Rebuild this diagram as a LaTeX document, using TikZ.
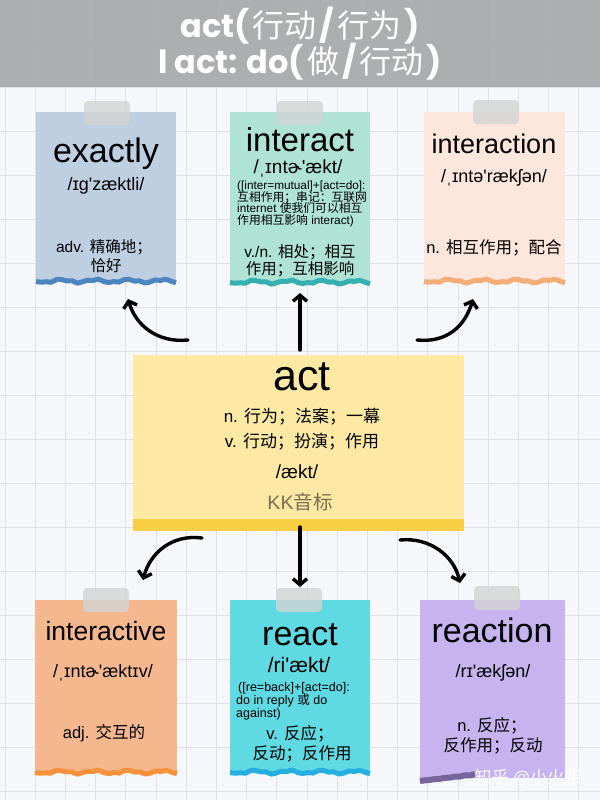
\documentclass[tikz,border=0pt]{standalone}
\usepackage{fontspec}
\setmainfont{Liberation Sans}[Ligatures=TeXOff]
\newfontfamily\cjk{Noto Sans CJK SC}
\newfontfamily\popf{Poppins}
\usetikzlibrary{arrows.meta}
\newcommand\zh[1]{{\cjk #1}}
\newcommand\fs[1]{\fontsize{#1}{#1}\selectfont}
\newcommand\tk{\kern3pt}
\definecolor{bgc}{HTML}{F5F7FB}
\definecolor{gridc}{HTML}{DDE1E8}
\definecolor{titlec}{HTML}{A8A9AB}
\definecolor{exf}{HTML}{BFCFE2}
\definecolor{exw}{HTML}{4D85BF}
\definecolor{inf}{HTML}{AEE3D5}
\definecolor{inwv}{HTML}{35B0AE}
\definecolor{iaf}{HTML}{FDE6DC}
\definecolor{iawv}{HTML}{F2AD78}
\definecolor{actf}{HTML}{FDE9A3}
\definecolor{acts}{HTML}{F8CF45}
\definecolor{itf}{HTML}{F5B88E}
\definecolor{itwv}{HTML}{F7923A}
\definecolor{ref}{HTML}{5FD9E2}
\definecolor{rewv}{HTML}{25AEE0}
\definecolor{raf}{HTML}{C6B3EF}
\definecolor{rawv}{HTML}{76649C}
\definecolor{kkc}{HTML}{7B6F52}
\definecolor{tapec}{HTML}{D3D4D4}
\tikzset{
  cardbox/.style={anchor=north west, inner sep=0, draw=none},
  tapebox/.style={fill=tapec, opacity=0.8, inner sep=0, minimum width=46, minimum height=24, rounded corners=4},
  t/.style={anchor=base, inner sep=0, text=black},
  tl/.style={anchor=base west, inner sep=0, text=black},
  arr/.style={line width=3.4, line cap=round, -{Straight Barb[length=6pt,width=14pt]}},
}
\newcommand\wave[4]{\draw[#4, line width=5] plot[smooth, domain=0:1, samples=28] ({#1+\x*(#2-#1)},{#3+1.4*sin(\x*1500)+0.8*sin(\x*3700+40)});}
\begin{document}
\begin{tikzpicture}[x=1pt,y=-1pt]
\useasboundingbox (0,0) rectangle (600,800);
\fill[bgc] (0,0) rectangle (600,800);
\foreach \gx in {5,35.2,...,600} \draw[gridc, line width=0.7] (\gx,0) -- (\gx,800);
\foreach \gy in {43,87,...,800} \draw[gridc, line width=0.7] (0,\gy) -- (600,\gy);
% title band
\fill[titlec, opacity=0.93] (0,0) rectangle (600,87);
\node[t, text=white, font=\popf\bfseries\fs{32}] (title1) at (300,37.5) {act(\tk\zh{\mdseries 行动}\tk/\tk\zh{\mdseries 行为}\tk)};
\node[t, text=white, font=\popf\bfseries\fs{32}] (title2) at (300,74) {l act: do(\tk\zh{\mdseries 做}\tk/\tk\zh{\mdseries 行动}\tk)};
% cards
\node[cardbox, fill=exf, minimum width=140, minimum height=169] (exactly) at (36,112) {};
\wave{36}{176}{281}{exw}
\node[cardbox, fill=inf, minimum width=140, minimum height=170] (interact) at (230,112) {};
\wave{230}{370}{282}{inwv}
\node[cardbox, fill=iaf, minimum width=141, minimum height=169] (interaction) at (424,112) {};
\wave{424}{565}{281}{iawv}
\node[cardbox, fill=actf, minimum width=331, minimum height=175] (act) at (133,355) {};
\fill[acts] (133,519) rectangle (464,531);
\node[cardbox, fill=itf, minimum width=142, minimum height=172] (interactive) at (35,600) {};
\wave{35}{177}{772}{itwv}
\node[cardbox, fill=ref, minimum width=140, minimum height=172] (react) at (230,600) {};
\wave{230}{370}{772}{rewv}
\node[cardbox, fill=raf, minimum width=145, minimum height=178] (reaction) at (420,600) {};
\draw[rawv, line width=6] plot[smooth, domain=0:1, samples=12] ({420+55*\x},{781-6.6*\x+1.2*sin(\x*2000)});
% tapes
\node[tapebox] (tape1) at (107,113) {};
\node[tapebox] (tape2) at (300,113) {};
\node[tapebox] (tape3) at (496,112) {};
\node[tapebox] (tape4) at (106,600) {};
\node[tapebox] (tape5) at (299,600) {};
\node[tapebox] (tape6) at (497,598) {};
% exactly
\node[t, font=\fs{34}] (exw1) at (106,162) {exactly};
\node[t, font=\fs{18}] (exp1) at (106,190) {/ɪɡ'zæktli/};
\node[t, font=\fs{15.5}] (exm1) at (104,252) {adv. \zh{精确地；}};
\node[t, font=\fs{15.5}] (exm2) at (106,271) {\zh{恰好}};
% interact
\node[t, font=\fs{33}] (inw1) at (300,151) {interact};
\node[t, font=\fs{19}] (inp1) at (298,173) {/ˌɪntɚ'ækt/};
\node[tl, font=\fs{11.8}] (ins1) at (237,189.5) {([inter=mutual]+[act=do]:};
\node[tl, font=\fs{11.8}] (ins2) at (237,201.2) {\zh{互相作用；串记：互联网}};
\node[tl, font=\fs{11.8}] (ins3) at (237,212.9) {internet \zh{使我们可以相互}};
\node[tl, font=\fs{11.8}] (ins4) at (237,224.6) {\zh{作用相互影响} interact)};
\node[t, font=\fs{15.5}] (inm1) at (300,257.5) {v./n. \zh{相处；相互}};
\node[t, font=\fs{15.5}] (inm2) at (300,274) {\zh{作用；互相影响}};
% interaction
\node[t, font=\fs{27}] (iaw1) at (494,153) {interaction};
\node[t, font=\fs{18}] (iap1) at (494,182) {/ˌɪntə'rækʃən/};
\node[t, font=\fs{16.5}] (iam1) at (494,253) {n. \zh{相互作用；配合}};
% act
\node[t, font=\fs{43}] (actw1) at (302,390) {act};
\node[t, font=\fs{17}] (actn1) at (302,422) {n. \zh{行为；法案；一幕}};
\node[t, font=\fs{17}] (actv1) at (302,447) {v. \zh{行动；扮演；作用}};
\node[t, font=\fs{19}] (actp1) at (297,478) {/ækt/};
\node[t, font=\fs{19.5}, text=kkc] (actk1) at (300,509) {KK\zh{音标}};
% interactive
\node[t, font=\fs{26.5}] (itw1) at (106,640) {interactive};
\node[t, font=\fs{18}] (itp1) at (103,677) {/ˌɪntɚ'æktɪv/};
\node[t, font=\fs{16.5}] (itm1) at (104,738) {adj. \zh{交互的}};
% react
\node[t, font=\fs{34}] (rew1) at (300,645) {react};
\node[t, font=\fs{21}] (rep1) at (299,672) {/ri'ækt/};
\node[tl, font=\fs{12.5}] (res1) at (238,691) {([re=back]+[act=do]:};
\node[tl, font=\fs{12.5}] (res2) at (236,704) {do in reply \zh{或} do};
\node[tl, font=\fs{12.5}] (res3) at (236,717) {against)};
\node[t, font=\fs{16.5}] (rem1) at (300,739) {v. \zh{反应；}};
\node[t, font=\fs{16.5}] (rem2) at (302,759) {\zh{反动；反作用}};
% reaction
\node[t, font=\fs{34}] (raw1) at (492,642) {reaction};
\node[t, font=\fs{18}] (rap1) at (493,677) {/rɪ'ækʃən/};
\node[t, font=\fs{16.5}] (ram1) at (492,731) {n. \zh{反应；}};
\node[t, font=\fs{16.5}] (ram2) at (493,751) {\zh{反作用；反动}};
% watermark
\node[t, font=\fs{17}, text=white, opacity=0.95] (wm) at (528,783) {\zh{知乎} @\zh{小火柴}};
% arrows
\coordinate (a1s) at (188,340); \coordinate (a1e) at (128,299);
\coordinate (a2s) at (300,350); \coordinate (a2e) at (300,293);
\coordinate (a3s) at (417,340); \coordinate (a3e) at (473,299);
\coordinate (b1s) at (202,538); \coordinate (b1e) at (143,580);
\coordinate (b2s) at (300,527); \coordinate (b2e) at (300,587);
\coordinate (b3s) at (400,540); \coordinate (b3e) at (460,583);
\draw[arr] (a1s) .. controls (158,343) and (136,326) .. (a1e);
\draw[arr] (a2s) -- (a2e);
\draw[arr] (a3s) .. controls (447,343) and (465,326) .. (a3e);
\draw[arr] (b1s) .. controls (172,534) and (150,553) .. (b1e);
\draw[arr] (b2s) -- (b2e);
\draw[arr] (b3s) .. controls (430,537) and (454,556) .. (b3e);
\end{tikzpicture}
\end{document}
